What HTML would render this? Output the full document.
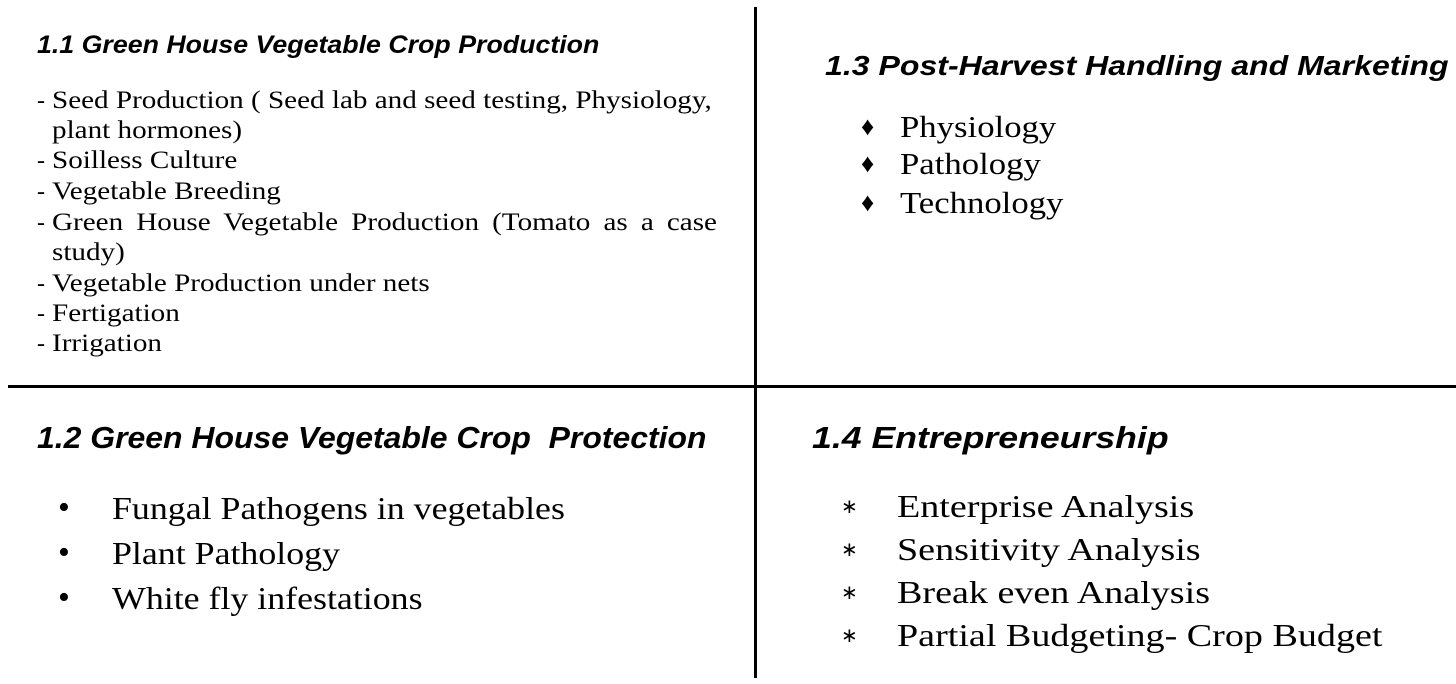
<!DOCTYPE html>
<html><head><meta charset="utf-8"><style>
html,body{margin:0;padding:0;background:#fff;width:1456px;height:684px;overflow:hidden;position:relative}
.t{position:absolute;white-space:nowrap;color:#000;transform-origin:0 50%}
.h{font-family:"Liberation Sans",sans-serif;font-weight:bold;font-style:italic}
.s{font-family:"Liberation Serif",serif}
.line{position:absolute;background:#000}
.a{font-size:25px;line-height:26px;transform:scaleX(1.165)}
.d{font-size:24px;line-height:26px}
.b3{font-size:31px;line-height:34px;transform:scaleX(1.12)}
.b2{font-size:32px;line-height:36px;transform:scaleX(1.12)}
.b4{font-size:32px;line-height:36px;transform:scaleX(1.19)}
</style></head><body>
<div class="line" style="left:754px;top:7px;width:3px;height:671px"></div>
<div class="line" style="left:8px;top:385px;width:1448px;height:3px"></div>

<div class="t h" style="left:37px;top:32px;font-size:25px;line-height:26px;transform:scaleX(1.07)">1.1 Green House Vegetable Crop Production</div>
<div class="t s d" style="left:37px;top:88px">-</div>
<div class="t s a" style="left:52px;top:88px">Seed Production ( Seed lab and seed testing, Physiology,</div>
<div class="t s a" style="left:52px;top:118px">plant hormones)</div>
<div class="t s d" style="left:37px;top:148px">-</div>
<div class="t s a" style="left:52px;top:148px">Soilless Culture</div>
<div class="t s d" style="left:37px;top:179px">-</div>
<div class="t s a" style="left:52px;top:179px">Vegetable Breeding</div>
<div class="t s d" style="left:37px;top:210px">-</div>
<div class="t s a" style="left:52px;top:210px;word-spacing:5px">Green House Vegetable Production (Tomato as a case</div>
<div class="t s a" style="left:52px;top:240px">study)</div>
<div class="t s d" style="left:37px;top:271px">-</div>
<div class="t s a" style="left:52px;top:271px">Vegetable Production under nets</div>
<div class="t s d" style="left:37px;top:301px">-</div>
<div class="t s a" style="left:52px;top:301px">Fertigation</div>
<div class="t s d" style="left:37px;top:331px">-</div>
<div class="t s a" style="left:52px;top:331px">Irrigation</div>

<div class="t h" style="left:825px;top:51px;font-size:28px;line-height:30px;transform:scaleX(1.145)">1.3 Post-Harvest Handling and Marketing</div>
<div class="t s" style="left:861px;top:112px;font-size:26px;line-height:30px">&#9830;</div>
<div class="t s b3" style="left:900px;top:110px">Physiology</div>
<div class="t s" style="left:861px;top:149px;font-size:26px;line-height:30px">&#9830;</div>
<div class="t s b3" style="left:900px;top:147px">Pathology</div>
<div class="t s" style="left:861px;top:188px;font-size:26px;line-height:30px">&#9830;</div>
<div class="t s b3" style="left:900px;top:186px">Technology</div>

<div class="t h" style="left:37px;top:420px;font-size:31px;line-height:36px;transform:scaleX(1.03)">1.2 Green House Vegetable Crop&nbsp; Protection</div>
<div class="t s" style="left:58px;top:490px;font-size:34px;line-height:36px">&#8226;</div>
<div class="t s b2" style="left:112px;top:490px">Fungal Pathogens in vegetables</div>
<div class="t s" style="left:58px;top:535px;font-size:34px;line-height:36px">&#8226;</div>
<div class="t s b2" style="left:112px;top:535px">Plant Pathology</div>
<div class="t s" style="left:58px;top:580px;font-size:34px;line-height:36px">&#8226;</div>
<div class="t s b2" style="left:112px;top:580px">White fly infestations</div>

<div class="t h" style="left:812px;top:420px;font-size:31px;line-height:36px;transform:scaleX(1.15)">1.4 Entrepreneurship</div>
<div class="t s" style="left:841px;top:492px;font-size:20px;line-height:30px">&#8727;</div>
<div class="t s b4" style="left:897px;top:488px">Enterprise Analysis</div>
<div class="t s" style="left:841px;top:535px;font-size:20px;line-height:30px">&#8727;</div>
<div class="t s b4" style="left:897px;top:531px">Sensitivity Analysis</div>
<div class="t s" style="left:841px;top:578px;font-size:20px;line-height:30px">&#8727;</div>
<div class="t s b4" style="left:897px;top:574px">Break even Analysis</div>
<div class="t s" style="left:841px;top:621px;font-size:20px;line-height:30px">&#8727;</div>
<div class="t s b4" style="left:897px;top:617px">Partial Budgeting- Crop Budget</div>
</body></html>
